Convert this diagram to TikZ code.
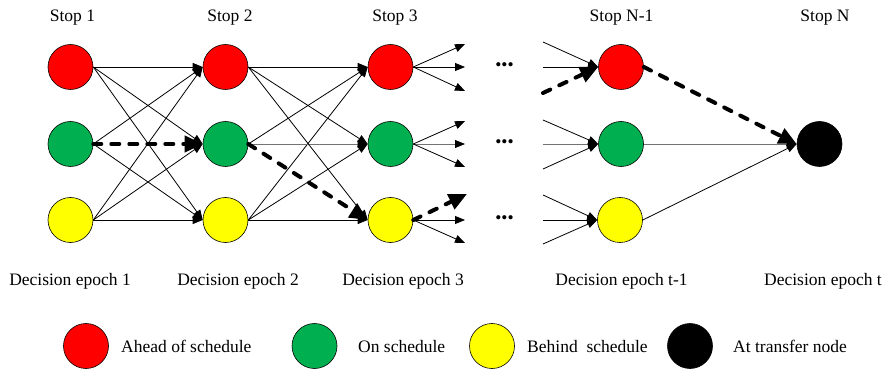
\documentclass[tikz,border=0pt]{standalone}
\usepackage{fontspec}
\setmainfont{Liberation Serif}
\usetikzlibrary{arrows.meta}
\definecolor{cred}{HTML}{FF0000}
\definecolor{cgreen}{HTML}{00B050}
\definecolor{cyellow}{HTML}{FFFF00}
\begin{document}
\begin{tikzpicture}[x=1pt,y=-1pt,
  state/.style={circle,draw=black,line width=0.6pt,minimum size=45pt,inner sep=0pt},
  edge1/.style={line width=0.8pt,-{Triangle[length=10pt,width=8pt]}},
  grayedge/.style={line width=0.8pt,draw=black!55,-{Triangle[length=10pt,width=8pt,color=black]}},
  route/.style={line width=4pt,dash pattern=on 8pt off 10pt,line cap=round,-{Triangle[length=18pt,width=16pt]}},
  lbl/.style={font=\fontsize{17.5}{20}\selectfont,anchor=base,inner sep=0pt},
  leg/.style={font=\fontsize{17.5}{20}\selectfont,anchor=base west,inner sep=0pt},
  dotsnode/.style={font=\fontsize{17.5}{20}\selectfont,inner sep=0pt}]
\useasboundingbox (0,0) rectangle (884,374);

% states
\node[state,fill=cred] (r1) at (70.5,67) {};
\node[state,fill=cgreen] (g1) at (70.5,144) {};
\node[state,fill=cyellow] (y1) at (70.5,220) {};
\node[state,fill=cred] (r2) at (225.5,67) {};
\node[state,fill=cgreen] (g2) at (225.5,144) {};
\node[state,fill=cyellow] (y2) at (225.5,220) {};
\node[state,fill=cred] (r3) at (390.5,67) {};
\node[state,fill=cgreen] (g3) at (390.5,144) {};
\node[state,fill=cyellow] (y3) at (390.5,220) {};
\node[state,fill=cred] (rn) at (621,67) {};
\node[state,fill=cgreen] (gn) at (621,144) {};
\node[state,fill=cyellow] (yn) at (620,220) {};
\node[state,fill=black] (bn) at (819.5,144) {};

% labels
\node[lbl] (s1) at (72.5,22) {Stop 1};
\node[lbl] (s2) at (230,22) {Stop 2};
\node[lbl] (s3) at (395,22) {Stop 3};
\node[lbl] (sn1) at (621.5,22) {Stop N-1};
\node[lbl] (sn) at (825,22) {Stop N};

\node[lbl] (e1) at (70,286) {Decision epoch 1};
\node[lbl] (e2) at (238,286) {Decision epoch 2};
\node[lbl] (e3) at (403,286) {Decision epoch 3};
\node[lbl] (et1) at (621.5,286) {Decision epoch t-1};
\node[lbl] (et) at (823,286) {Decision epoch t};

% stage 1 -> 2
\foreach \a in {r1,g1,y1}{
  \foreach \b in {r2,y2}{
    \draw[edge1] (\a.east) -- (\b.west);
  }
}
\draw[edge1] (r1.east) -- (g2.west);
\draw[edge1] (y1.east) -- (g2.west);
\draw[route] (g1.east) -- (g2.west);

% stage 2 -> 3
\foreach \a in {r2,g2,y2}{
  \draw[edge1] (\a.east) -- (r3.west);
}
\draw[edge1] (r2.east) -- (g3.west);
\draw[grayedge] (g2.east) -- (g3.west);
\draw[edge1] (y2.east) -- (g3.west);
\draw[edge1] (r2.east) -- (y3.west);
\draw[edge1] (y2.east) -- (y3.west);
\draw[route] (g2.east) -- (y3.west);

% stage 3 outgoing
\coordinate (o1) at (465,44);
\coordinate (o2) at (465,67);
\coordinate (o3) at (465,91);
\coordinate (o4) at (465,121);
\coordinate (o5) at (465,144);
\coordinate (o6) at (465,167);
\coordinate (o7) at (467,194);
\coordinate (o8) at (465,220);
\coordinate (o9) at (465,243);
\draw[edge1] (r3.east) -- (o1);
\draw[edge1] (r3.east) -- (o2);
\draw[edge1] (r3.east) -- (o3);
\draw[edge1] (g3.east) -- (o4);
\draw[grayedge] (g3.east) -- (o5);
\draw[edge1] (g3.east) -- (o6);
\draw[route] (y3.east) -- (o7);
\draw[edge1] (y3.east) -- (o8);
\draw[edge1] (y3.east) -- (o9);

% dots
\node[dotsnode] (d1) at (504.5,67) {\textbullet\textbullet\textbullet};
\node[dotsnode] (d2) at (504.5,144) {\textbullet\textbullet\textbullet};
\node[dotsnode] (d3) at (504.5,220) {\textbullet\textbullet\textbullet};

% incoming to N-1
\coordinate (i1) at (543,42);
\coordinate (i2) at (543,67);
\coordinate (i3) at (543,93);
\coordinate (i4) at (543,120);
\coordinate (i5) at (543,144);
\coordinate (i6) at (543,169);
\coordinate (i7) at (543,195);
\coordinate (i8) at (543,220);
\coordinate (i9) at (543,244);
\draw[edge1] (i1) -- (rn.west);
\draw[edge1] (i2) -- (rn.west);
\draw[route] (i3) -- (rn.west);
\draw[edge1] (i4) -- (gn.west);
\draw[grayedge] (i5) -- (gn.west);
\draw[edge1] (i6) -- (gn.west);
\draw[edge1] (i7) -- (yn.west);
\draw[edge1] (i8) -- (yn.west);
\draw[edge1] (i9) -- (yn.west);

% N-1 -> N
\draw[route] (rn.east) -- (bn.west);
\draw[grayedge] (gn.east) -- (bn.west);
\draw[edge1] (yn.east) -- (bn.west);

% legend
\node[state,fill=cred] (lr) at (86,346) {};
\node[leg] (lrt) at (121,352) {Ahead of schedule};
\node[state,fill=cgreen] (lg) at (314.5,346) {};
\node[leg] (lgt) at (358,352) {On schedule};
\node[state,fill=cyellow] (ly) at (492,346) {};
\node[leg] (lyt) at (527,352) {Behind\ \ schedule};
\node[state,fill=black] (lb) at (690,346) {};
\node[leg] (lbt) at (733,352) {At transfer node};
\end{tikzpicture}
\end{document}
